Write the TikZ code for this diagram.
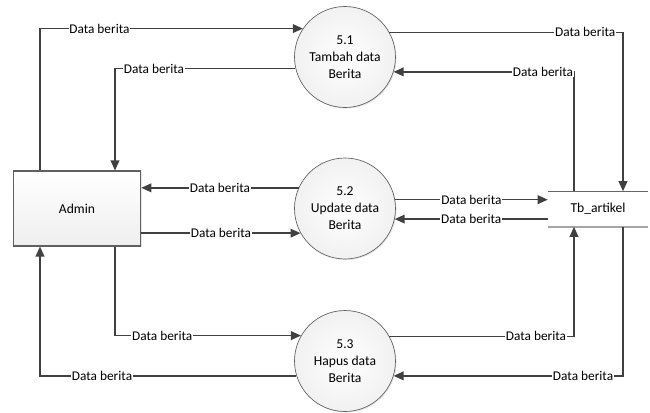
\documentclass[tikz,border=0pt]{standalone}
\usepackage{fontspec}
\setmainfont{Carlito}
\usetikzlibrary{arrows.meta,shadows,calc}
\definecolor{lineC}{HTML}{404040}
\definecolor{edgeC}{HTML}{606060}
\begin{document}
\begin{tikzpicture}[x=0.75pt,y=-0.75pt,
  font=\fontsize{10.2}{12.8}\selectfont,
  flow/.style={draw=lineC,line width=1.1pt,-{Triangle[length=7.5pt,width=6.5pt]}},
  lbl/.style={fill=white,inner sep=0.6pt,text=black,font=\fontsize{10}{11}\selectfont},
  proc/.style={circle,draw=edgeC,line width=0.5pt,minimum size=101pt*0.75,inner sep=0pt,align=center,
    inner color=white,outer color=gray!11,drop shadow={shadow xshift=0.8pt,shadow yshift=-0.8pt,opacity=0.2}},
  ent/.style={rectangle,draw=edgeC,line width=0.8pt,minimum width=127.5pt*0.75,minimum height=75pt*0.75,
    top color=white,bottom color=gray!13,drop shadow={shadow xshift=0.8pt,shadow yshift=-0.8pt,opacity=0.2}},
  store/.style={rectangle,minimum width=100pt*0.75,minimum height=35pt*0.75,inner sep=0pt}
]
\useasboundingbox (0,0) rectangle (650,412);
\node[ent] (admin) at (77,208.5) {Admin};
\node[proc] (p1) at (345,57) {5.1\\Tambah data\\Berita};
\node[proc] (p2) at (345,208.5) {5.2\\Update data\\Berita};
\node[proc] (p3) at (345,361) {5.3\\Hapus data\\Berita};
\node[store] (tb) at (598,209) {Tb\_artikel};
\draw[gray!80!black,line width=0.8pt] (tb.north west) -- (tb.north east);
\draw[gray!70,line width=1.4pt] (tb.south west) -- (tb.south east);
% left side
\draw[flow] ([xshift=-37pt*0.75]admin.north) |- (p1.146.7) node[lbl,pos=0.613] {Data berita};
\draw[flow] (p1.193.6) -| ([xshift=38pt*0.75]admin.north) node[lbl,pos=0.392] {Data berita};
\draw[flow] (p2.156.9) -- (p2.156.9 -| admin.east) node[lbl,midway] {Data berita};
\draw[flow] (admin.east |- p2.209.4) -- (p2.209.4) node[lbl,midway] {Data berita};
\draw[flow] ([xshift=38pt*0.75]admin.south) |- (p3.150.6) node[lbl,pos=0.627] {Data berita};
\draw[flow] (p3.197.1) -| ([xshift=-37pt*0.75]admin.south) node[lbl,pos=0.379] {Data berita};
% right side
\draw[flow] (p1.29.4) -| ([xshift=25pt*0.75]tb.north) node[lbl,pos=0.419] {Data berita};
\draw[flow] ([xshift=-24pt*0.75]tb.north) |- (p1.-17.1) node[lbl,pos=0.586] {Data berita};
\draw[flow] (p2.10.2) -- (p2.10.2 -| tb.west) node[lbl,midway] {Data berita};
\draw[flow] (tb.west |- p2.-12.5) -- (p2.-12.5) node[lbl,midway] {Data berita};
\draw[flow] (p3.29.4) -| ([xshift=-24pt*0.75]tb.south) node[lbl,pos=0.397] {Data berita};
\draw[flow] ([xshift=25pt*0.75]tb.south) |- (p3.-17.1) node[lbl,pos=0.587] {Data berita};
\end{tikzpicture}
\end{document}
